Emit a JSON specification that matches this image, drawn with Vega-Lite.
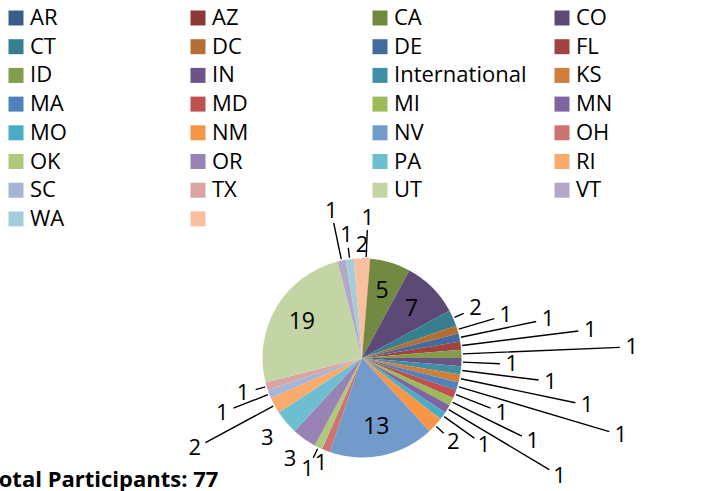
{
  "$schema": "https://vega.github.io/schema/vega-lite/v6.json",
  "width": 200,
  "height": 200,
  "autosize": {"type": "none"},
  "padding": {"left": 262, "top": 258, "right": 242, "bottom": 33},
  "background": "white",
  "config": {"view": {"stroke": null}, "font": "Open Sans"},
  "title": {"text": "Total Participants: 77", "orient": "bottom", "anchor": "start", "frame": "group", "dx": -276, "offset": 0, "baseline": "alphabetic", "fontSize": 22, "fontWeight": "bold", "font": "Open Sans", "color": "black"},
  "data": {"values": [
    {"state": "AR", "count": 0}, {"state": "AZ", "count": 1}, {"state": "CA", "count": 5}, {"state": "CO", "count": 7},
    {"state": "CT", "count": 2}, {"state": "DC", "count": 1}, {"state": "DE", "count": 1}, {"state": "FL", "count": 1},
    {"state": "ID", "count": 1}, {"state": "IN", "count": 1}, {"state": "International", "count": 1}, {"state": "KS", "count": 1},
    {"state": "MA", "count": 1}, {"state": "MD", "count": 1}, {"state": "MI", "count": 1}, {"state": "MN", "count": 1},
    {"state": "MO", "count": 1}, {"state": "NM", "count": 2}, {"state": "NV", "count": 13}, {"state": "OH", "count": 1},
    {"state": "OK", "count": 1}, {"state": "OR", "count": 3}, {"state": "PA", "count": 3}, {"state": "RI", "count": 2},
    {"state": "SC", "count": 1}, {"state": "TX", "count": 1}, {"state": "UT", "count": 19}, {"state": "VT", "count": 1},
    {"state": "WA", "count": 1}, {"state": " ", "count": 2}
  ]},
  "transform": [
    {"window": [{"op": "row_number", "as": "i"}]},
    {"stack": "count", "groupby": [], "sort": [{"field": "i", "order": "ascending"}], "as": ["a0", "a1"]},
    {"fold": ["a0", "a1"], "as": ["edge", "pos"]},
    {"aggregate": [{"op": "min", "field": "pos", "as": "s0"}, {"op": "max", "field": "pos", "as": "s1"}, {"op": "mean", "field": "pos", "as": "mid"}], "groupby": ["state", "count", "i"]}
  ],
  "layer": [
    {
      "mark": {"type": "arc", "outerRadius": 99.5},
      "encoding": {
        "theta": {"field": "s0", "type": "quantitative", "stack": null, "scale": {"zero": true, "nice": false}},
        "theta2": {"field": "s1"},
        "color": {
          "field": "state", "type": "nominal",
          "scale": {
            "domain": ["AR","AZ","CA","CO","CT","DC","DE","FL","ID","IN","International","KS","MA","MD","MI","MN","MO","NM","NV","OH","OK","OR","PA","RI","SC","TX","UT","VT","WA"," "],
            "range": ["#3A5E8A","#8C3A38","#718941","#5D4976","#377E91","#B46E33","#426C9F","#A14341","#829D4B","#6C5488","#3F90A6","#CF7E3B","#4F81BD","#C0504D","#9BBB59","#8064A2","#4BACC6","#F79646","#729ACA","#CD7371","#AFC97A","#9983B5","#6FBDD1","#F9AB6B","#A5B5D5","#D9A4A3","#C3D4A5","#B3A9C6","#A3CDDB","#F9C09F"]
          },
          "legend": {"orient": "none", "direction": "horizontal", "legendX": -257, "legendY": -251, "columns": 4, "title": null, "symbolType": "square", "symbolSize": 225, "symbolStrokeWidth": 0, "labelFont": "Open Sans", "labelFontSize": 22, "labelColor": "black", "labelOffset": 3, "rowPadding": 6.7, "columnPadding": 24, "gridAlign": "all", "padding": 0}
        }
      }
    },
    {
      "transform": [{"filter": "datum.count >= 5"}],
      "mark": {"type": "text", "radius": 70, "fontSize": 23, "font": "Open Sans", "color": "black", "align": "center", "baseline": "middle"},
      "encoding": {"theta": {"field": "mid", "type": "quantitative", "stack": null}, "text": {"field": "count", "type": "quantitative"}}
    },
    {
      "transform": [{"filter": {"field": "state", "oneOf": [" ", "OH"]}}],
      "mark": {"type": "text", "radius": 113, "fontSize": 22, "font": "Open Sans", "color": "black", "align": "center", "baseline": "middle"},
      "encoding": {"theta": {"field": "mid", "type": "quantitative", "stack": null}, "text": {"field": "count", "type": "quantitative"}}
    },
    {
      "transform": [{"filter": {"field": "state", "oneOf": ["WA", "CT", "NM", "OK", "OR", "PA", "TX"]}}],
      "mark": {"type": "text", "radius": 124, "fontSize": 22, "font": "Open Sans", "color": "black", "align": "center", "baseline": "middle"},
      "encoding": {"theta": {"field": "mid", "type": "quantitative", "stack": null}, "text": {"field": "count", "type": "quantitative"}}
    },
    {
      "transform": [{"filter": {"field": "state", "oneOf": ["WA", "CT", "NM", "OK", "TX"]}}],
      "mark": {"type": "arc", "filled": false, "stroke": "black", "strokeWidth": 1.4, "innerRadius": 101, "outerRadius": 111},
      "encoding": {"theta": {"field": "mid", "type": "quantitative", "stack": null}, "theta2": {"field": "mid"}}
    },
    {
      "transform": [{"filter": {"field": "state", "oneOf": ["AZ"]}}],
      "mark": {"type": "text", "radius": 140, "fontSize": 22, "font": "Open Sans", "color": "black", "align": "center", "baseline": "middle"},
      "encoding": {"theta": {"field": "mid", "type": "quantitative", "stack": null}, "text": {"field": "count", "type": "quantitative"}}
    },
    {
      "transform": [{"filter": {"field": "state", "oneOf": ["AZ"]}}],
      "mark": {"type": "arc", "filled": false, "stroke": "black", "strokeWidth": 1.4, "innerRadius": 101, "outerRadius": 128},
      "encoding": {"theta": {"field": "mid", "type": "quantitative", "stack": null}, "theta2": {"field": "mid"}}
    },
    {
      "transform": [{"filter": {"field": "state", "oneOf": ["VT", "DC", "IN", "MD", "MO", "SC"]}}],
      "mark": {"type": "text", "radius": 150, "fontSize": 22, "font": "Open Sans", "color": "black", "align": "center", "baseline": "middle"},
      "encoding": {"theta": {"field": "mid", "type": "quantitative", "stack": null}, "text": {"field": "count", "type": "quantitative"}}
    },
    {
      "transform": [{"filter": {"field": "state", "oneOf": ["VT", "DC", "IN", "MD", "MO", "SC"]}}],
      "mark": {"type": "arc", "filled": false, "stroke": "black", "strokeWidth": 1.4, "innerRadius": 101, "outerRadius": 138},
      "encoding": {"theta": {"field": "mid", "type": "quantitative", "stack": null}, "theta2": {"field": "mid"}}
    },
    {
      "transform": [{"filter": {"field": "state", "oneOf": ["DE", "International", "MI", "RI"]}}],
      "mark": {"type": "text", "radius": 190, "fontSize": 22, "font": "Open Sans", "color": "black", "align": "center", "baseline": "middle"},
      "encoding": {"theta": {"field": "mid", "type": "quantitative", "stack": null}, "text": {"field": "count", "type": "quantitative"}}
    },
    {
      "transform": [{"filter": {"field": "state", "oneOf": ["DE", "International", "MI", "RI"]}}],
      "mark": {"type": "arc", "filled": false, "stroke": "black", "strokeWidth": 1.4, "innerRadius": 101, "outerRadius": 178},
      "encoding": {"theta": {"field": "mid", "type": "quantitative", "stack": null}, "theta2": {"field": "mid"}}
    },
    {
      "transform": [{"filter": {"field": "state", "oneOf": ["FL", "KS", "MN"]}}],
      "mark": {"type": "text", "radius": 230, "fontSize": 22, "font": "Open Sans", "color": "black", "align": "center", "baseline": "middle"},
      "encoding": {"theta": {"field": "mid", "type": "quantitative", "stack": null}, "text": {"field": "count", "type": "quantitative"}}
    },
    {
      "transform": [{"filter": {"field": "state", "oneOf": ["FL", "KS", "MN"]}}],
      "mark": {"type": "arc", "filled": false, "stroke": "black", "strokeWidth": 1.4, "innerRadius": 101, "outerRadius": 218},
      "encoding": {"theta": {"field": "mid", "type": "quantitative", "stack": null}, "theta2": {"field": "mid"}}
    },
    {
      "transform": [{"filter": {"field": "state", "oneOf": ["ID", "MA"]}}],
      "mark": {"type": "text", "radius": 270, "fontSize": 22, "font": "Open Sans", "color": "black", "align": "center", "baseline": "middle"},
      "encoding": {"theta": {"field": "mid", "type": "quantitative", "stack": null}, "text": {"field": "count", "type": "quantitative"}}
    },
    {
      "transform": [{"filter": {"field": "state", "oneOf": ["ID", "MA"]}}],
      "mark": {"type": "arc", "filled": false, "stroke": "black", "strokeWidth": 1.4, "innerRadius": 101, "outerRadius": 258},
      "encoding": {"theta": {"field": "mid", "type": "quantitative", "stack": null}, "theta2": {"field": "mid"}}
    }
  ]
}
